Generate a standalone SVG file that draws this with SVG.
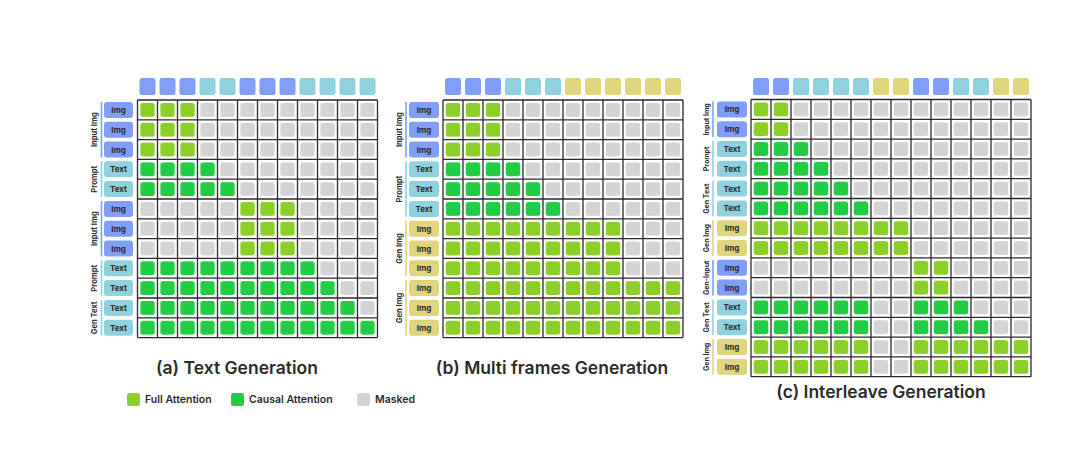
<svg xmlns="http://www.w3.org/2000/svg" width="1080" height="454" viewBox="0 0 1080 454">
<style>
text{font-family:Inter,"Liberation Sans",sans-serif;fill:#2b2b2b}
.lbl{font-size:8px;font-weight:700;text-anchor:middle;dominant-baseline:central}
.grp{font-size:7.6px;font-weight:700;text-anchor:middle;dominant-baseline:central}
#panel-c .grp{font-size:7px}
.ttl{font-size:17.5px;font-weight:600;text-anchor:middle}
.leg{font-size:10.5px;font-weight:600;dominant-baseline:central}
.B{fill:#809ef5}.T{fill:#8fd2de}.Y{fill:#e0d47c}
.lB{stroke:#809ef5}.lT{stroke:#8fd2de}.lY{stroke:#e0d47c}
.gl{stroke-width:1.6;fill:none}
.grid{fill:none;stroke:#2a2a2a;stroke-width:1.3}
</style>
<defs>
<pattern id="pm" patternUnits="userSpaceOnUse" width="20" height="19.8"><rect width="20" height="19.8" fill="#fff"/><rect x="2.75" y="2.9" width="14.5" height="14" rx="2.5" fill="#d4d4d4"/></pattern>
<pattern id="pf" patternUnits="userSpaceOnUse" width="20" height="19.8"><rect width="20" height="19.8" fill="#fff"/><rect x="2.75" y="2.9" width="14.5" height="14" rx="2.5" fill="#8ccf28"/></pattern>
<pattern id="pc" patternUnits="userSpaceOnUse" width="20" height="19.8"><rect width="20" height="19.8" fill="#fff"/><rect x="2.75" y="2.9" width="14.5" height="14" rx="2.5" fill="#22cc44"/></pattern>
</defs>
<rect width="1080" height="454" fill="#fff"/>

<g id="panel-a" transform="translate(137.5,100)">
  <g id="a-headers">
    <rect class="B" x="2" y="-22" width="16" height="17" rx="2.5"/><rect class="B" x="22" y="-22" width="16" height="17" rx="2.5"/><rect class="B" x="42" y="-22" width="16" height="17" rx="2.5"/>
    <rect class="T" x="62" y="-22" width="16" height="17" rx="2.5"/><rect class="T" x="82" y="-22" width="16" height="17" rx="2.5"/>
    <rect class="B" x="102" y="-22" width="16" height="17" rx="2.5"/><rect class="B" x="122" y="-22" width="16" height="17" rx="2.5"/><rect class="B" x="142" y="-22" width="16" height="17" rx="2.5"/>
    <rect class="T" x="162" y="-22" width="16" height="17" rx="2.5"/><rect class="T" x="182" y="-22" width="16" height="17" rx="2.5"/><rect class="T" x="202" y="-22" width="16" height="17" rx="2.5"/><rect class="T" x="222" y="-22" width="16" height="17" rx="2.5"/>
  </g>
  <g id="a-rows">
    <rect class="B" x="-33.5" y="1.9" width="29" height="16" rx="3"/><text class="lbl" x="-19" y="9.9">Img</text>
    <rect class="B" x="-33.5" y="21.7" width="29" height="16" rx="3"/><text class="lbl" x="-19" y="29.7">Img</text>
    <rect class="B" x="-33.5" y="41.5" width="29" height="16" rx="3"/><text class="lbl" x="-19" y="49.5">Img</text>
    <rect class="T" x="-33.5" y="61.3" width="29" height="16" rx="3"/><text class="lbl" x="-19" y="69.3">Text</text>
    <rect class="T" x="-33.5" y="81.1" width="29" height="16" rx="3"/><text class="lbl" x="-19" y="89.1">Text</text>
    <rect class="B" x="-33.5" y="100.9" width="29" height="16" rx="3"/><text class="lbl" x="-19" y="108.9">Img</text>
    <rect class="B" x="-33.5" y="120.7" width="29" height="16" rx="3"/><text class="lbl" x="-19" y="128.7">Img</text>
    <rect class="B" x="-33.5" y="140.5" width="29" height="16" rx="3"/><text class="lbl" x="-19" y="148.5">Img</text>
    <rect class="T" x="-33.5" y="160.3" width="29" height="16" rx="3"/><text class="lbl" x="-19" y="168.3">Text</text>
    <rect class="T" x="-33.5" y="180.1" width="29" height="16" rx="3"/><text class="lbl" x="-19" y="188.1">Text</text>
    <rect class="T" x="-33.5" y="199.9" width="29" height="16" rx="3"/><text class="lbl" x="-19" y="207.9">Text</text>
    <rect class="T" x="-33.5" y="219.7" width="29" height="16" rx="3"/><text class="lbl" x="-19" y="227.7">Text</text>
  </g>
  <g id="a-groups">
    <path class="gl lB" d="M-36 2V57.4"/><text class="grp" transform="translate(-43.5,29.7) rotate(-90)">Input Img</text>
    <path class="gl lT" d="M-36 61.4V97"/><text class="grp" transform="translate(-43.5,79.2) rotate(-90)">Prompt</text>
    <path class="gl lB" d="M-36 101V156.4"/><text class="grp" transform="translate(-43.5,128.7) rotate(-90)">Input Img</text>
    <path class="gl lT" d="M-36 160.4V196"/><text class="grp" transform="translate(-43.5,178.2) rotate(-90)">Prompt</text>
    <path class="gl lT" d="M-36 200V235.6"/><text class="grp" transform="translate(-43.5,217.8) rotate(-90)">Gen Text</text>
  </g>
  <g id="a-cells">
    <rect width="240" height="237.6" fill="url(#pm)"/>
    <rect x="0" y="0" width="60" height="59.4" fill="url(#pf)"/>
    <rect x="0" y="59.4" width="80" height="19.8" fill="url(#pc)"/>
    <rect x="0" y="79.2" width="100" height="19.8" fill="url(#pc)"/>
    <rect x="100" y="99" width="60" height="59.4" fill="url(#pf)"/>
    <rect x="0" y="158.4" width="180" height="19.8" fill="url(#pc)"/>
    <rect x="0" y="178.2" width="200" height="19.8" fill="url(#pc)"/>
    <rect x="0" y="198" width="220" height="19.8" fill="url(#pc)"/>
    <rect x="0" y="217.8" width="240" height="19.8" fill="url(#pc)"/>
    <path class="grid" d="M0 0V237.6M20 0V237.6M40 0V237.6M60 0V237.6M80 0V237.6M100 0V237.6M120 0V237.6M140 0V237.6M160 0V237.6M180 0V237.6M200 0V237.6M220 0V237.6M240 0V237.6M0 0H240M0 19.8H240M0 39.6H240M0 59.4H240M0 79.2H240M0 99H240M0 118.8H240M0 138.6H240M0 158.4H240M0 178.2H240M0 198H240M0 217.8H240M0 237.6H240"/>
  </g>
</g>

<g id="panel-b" transform="translate(443,100)">
  <g id="b-headers">
    <rect class="B" x="2" y="-22" width="16" height="17" rx="2.5"/><rect class="B" x="22" y="-22" width="16" height="17" rx="2.5"/><rect class="B" x="42" y="-22" width="16" height="17" rx="2.5"/>
    <rect class="T" x="62" y="-22" width="16" height="17" rx="2.5"/><rect class="T" x="82" y="-22" width="16" height="17" rx="2.5"/><rect class="T" x="102" y="-22" width="16" height="17" rx="2.5"/>
    <rect class="Y" x="122" y="-22" width="16" height="17" rx="2.5"/><rect class="Y" x="142" y="-22" width="16" height="17" rx="2.5"/><rect class="Y" x="162" y="-22" width="16" height="17" rx="2.5"/><rect class="Y" x="182" y="-22" width="16" height="17" rx="2.5"/><rect class="Y" x="202" y="-22" width="16" height="17" rx="2.5"/><rect class="Y" x="222" y="-22" width="16" height="17" rx="2.5"/>
  </g>
  <g id="b-rows">
    <rect class="B" x="-34" y="1.9" width="30" height="16" rx="3"/><text class="lbl" x="-19" y="9.9">Img</text>
    <rect class="B" x="-34" y="21.7" width="30" height="16" rx="3"/><text class="lbl" x="-19" y="29.7">Img</text>
    <rect class="B" x="-34" y="41.5" width="30" height="16" rx="3"/><text class="lbl" x="-19" y="49.5">Img</text>
    <rect class="T" x="-34" y="61.3" width="30" height="16" rx="3"/><text class="lbl" x="-19" y="69.3">Text</text>
    <rect class="T" x="-34" y="81.1" width="30" height="16" rx="3"/><text class="lbl" x="-19" y="89.1">Text</text>
    <rect class="T" x="-34" y="100.9" width="30" height="16" rx="3"/><text class="lbl" x="-19" y="108.9">Text</text>
    <rect class="Y" x="-34" y="120.7" width="30" height="16" rx="3"/><text class="lbl" x="-19" y="128.7">Img</text>
    <rect class="Y" x="-34" y="140.5" width="30" height="16" rx="3"/><text class="lbl" x="-19" y="148.5">Img</text>
    <rect class="Y" x="-34" y="160.3" width="30" height="16" rx="3"/><text class="lbl" x="-19" y="168.3">Img</text>
    <rect class="Y" x="-34" y="180.1" width="30" height="16" rx="3"/><text class="lbl" x="-19" y="188.1">Img</text>
    <rect class="Y" x="-34" y="199.9" width="30" height="16" rx="3"/><text class="lbl" x="-19" y="207.9">Img</text>
    <rect class="Y" x="-34" y="219.7" width="30" height="16" rx="3"/><text class="lbl" x="-19" y="227.7">Img</text>
  </g>
  <g id="b-groups">
    <path class="gl lB" d="M-37 2V57.4"/><text class="grp" transform="translate(-44,29.7) rotate(-90)">Input Img</text>
    <path class="gl lT" d="M-37 61.4V116.8"/><text class="grp" transform="translate(-44,89.1) rotate(-90)">Prompt</text>
    <path class="gl lY" d="M-37 120.8V176.2"/><text class="grp" transform="translate(-44,148.5) rotate(-90)">Gen Img</text>
    <path class="gl lY" d="M-37 180.2V235.6"/><text class="grp" transform="translate(-44,207.9) rotate(-90)">Gen Img</text>
  </g>
  <g id="b-cells">
    <rect width="240" height="237.6" fill="url(#pm)"/>
    <rect x="0" y="0" width="60" height="59.4" fill="url(#pf)"/>
    <rect x="0" y="59.4" width="80" height="19.8" fill="url(#pc)"/>
    <rect x="0" y="79.2" width="100" height="19.8" fill="url(#pc)"/>
    <rect x="0" y="99" width="120" height="19.8" fill="url(#pc)"/>
    <rect x="0" y="118.8" width="180" height="59.4" fill="url(#pf)"/>
    <rect x="0" y="178.2" width="240" height="59.4" fill="url(#pf)"/>
    <path class="grid" d="M0 0V237.6M20 0V237.6M40 0V237.6M60 0V237.6M80 0V237.6M100 0V237.6M120 0V237.6M140 0V237.6M160 0V237.6M180 0V237.6M200 0V237.6M220 0V237.6M240 0V237.6M0 0H240M0 19.8H240M0 39.6H240M0 59.4H240M0 79.2H240M0 99H240M0 118.8H240M0 138.6H240M0 158.4H240M0 178.2H240M0 198H240M0 217.8H240M0 237.6H240"/>
  </g>
</g>

<g id="panel-c" transform="translate(751,99.5)">
  <g id="c-headers">
    <rect class="B" x="2" y="-21.5" width="16" height="17" rx="2.5"/><rect class="B" x="22" y="-21.5" width="16" height="17" rx="2.5"/>
    <rect class="T" x="42" y="-21.5" width="16" height="17" rx="2.5"/><rect class="T" x="62" y="-21.5" width="16" height="17" rx="2.5"/><rect class="T" x="82" y="-21.5" width="16" height="17" rx="2.5"/><rect class="T" x="102" y="-21.5" width="16" height="17" rx="2.5"/>
    <rect class="Y" x="122" y="-21.5" width="16" height="17" rx="2.5"/><rect class="Y" x="142" y="-21.5" width="16" height="17" rx="2.5"/>
    <rect class="B" x="162" y="-21.5" width="16" height="17" rx="2.5"/><rect class="B" x="182" y="-21.5" width="16" height="17" rx="2.5"/>
    <rect class="T" x="202" y="-21.5" width="16" height="17" rx="2.5"/><rect class="T" x="222" y="-21.5" width="16" height="17" rx="2.5"/>
    <rect class="Y" x="242" y="-21.5" width="16" height="17" rx="2.5"/><rect class="Y" x="262" y="-21.5" width="16" height="17" rx="2.5"/>
  </g>
  <g id="c-rows">
    <rect class="B" x="-34" y="1.9" width="30" height="16" rx="3"/><text class="lbl" x="-19" y="9.9">Img</text>
    <rect class="B" x="-34" y="21.7" width="30" height="16" rx="3"/><text class="lbl" x="-19" y="29.7">Img</text>
    <rect class="T" x="-34" y="41.5" width="30" height="16" rx="3"/><text class="lbl" x="-19" y="49.5">Text</text>
    <rect class="T" x="-34" y="61.3" width="30" height="16" rx="3"/><text class="lbl" x="-19" y="69.3">Text</text>
    <rect class="T" x="-34" y="81.1" width="30" height="16" rx="3"/><text class="lbl" x="-19" y="89.1">Text</text>
    <rect class="T" x="-34" y="100.9" width="30" height="16" rx="3"/><text class="lbl" x="-19" y="108.9">Text</text>
    <rect class="Y" x="-34" y="120.7" width="30" height="16" rx="3"/><text class="lbl" x="-19" y="128.7">Img</text>
    <rect class="Y" x="-34" y="140.5" width="30" height="16" rx="3"/><text class="lbl" x="-19" y="148.5">Img</text>
    <rect class="B" x="-34" y="160.3" width="30" height="16" rx="3"/><text class="lbl" x="-19" y="168.3">Img</text>
    <rect class="B" x="-34" y="180.1" width="30" height="16" rx="3"/><text class="lbl" x="-19" y="188.1">Img</text>
    <rect class="T" x="-34" y="199.9" width="30" height="16" rx="3"/><text class="lbl" x="-19" y="207.9">Text</text>
    <rect class="T" x="-34" y="219.7" width="30" height="16" rx="3"/><text class="lbl" x="-19" y="227.7">Text</text>
    <rect class="Y" x="-34" y="239.5" width="30" height="16" rx="3"/><text class="lbl" x="-19" y="247.5">Img</text>
    <rect class="Y" x="-34" y="259.3" width="30" height="16" rx="3"/><text class="lbl" x="-19" y="267.3">Img</text>
  </g>
  <g id="c-groups">
    <path class="gl lB" d="M-38 2V37.6"/><text class="grp" transform="translate(-45,19.8) rotate(-90)">Input Img</text>
    <path class="gl lT" d="M-38 41.6V77.2"/><text class="grp" transform="translate(-45,59.4) rotate(-90)">Prompt</text>
    <path class="gl lT" d="M-38 81.2V116.8"/><text class="grp" transform="translate(-45,99) rotate(-90)">Gen Text</text>
    <path class="gl lY" d="M-38 120.8V156.4"/><text class="grp" transform="translate(-45,138.6) rotate(-90)">Gen Img</text>
    <path class="gl lB" d="M-38 160.4V196"/><text class="grp" transform="translate(-45,178.2) rotate(-90)">Gen-Input</text>
    <path class="gl lT" d="M-38 200V235.6"/><text class="grp" transform="translate(-45,217.8) rotate(-90)">Gen Text</text>
    <path class="gl lY" d="M-38 239.6V275.2"/><text class="grp" transform="translate(-45,257.4) rotate(-90)">Gen Img</text>
  </g>
  <g id="c-cells">
    <rect width="280" height="277.2" fill="url(#pm)"/>
    <rect x="0" y="0" width="40" height="39.6" fill="url(#pf)"/>
    <rect x="0" y="39.6" width="60" height="19.8" fill="url(#pc)"/>
    <rect x="0" y="59.4" width="80" height="19.8" fill="url(#pc)"/>
    <rect x="0" y="79.2" width="100" height="19.8" fill="url(#pc)"/>
    <rect x="0" y="99" width="120" height="19.8" fill="url(#pc)"/>
    <rect x="0" y="118.8" width="160" height="39.6" fill="url(#pf)"/>
    <rect x="160" y="158.4" width="40" height="39.6" fill="url(#pf)"/>
    <rect x="0" y="198" width="120" height="39.6" fill="url(#pc)"/>
    <rect x="160" y="198" width="60" height="19.8" fill="url(#pc)"/>
    <rect x="160" y="217.8" width="80" height="19.8" fill="url(#pc)"/>
    <rect x="0" y="237.6" width="120" height="39.6" fill="url(#pf)"/>
    <rect x="160" y="237.6" width="120" height="39.6" fill="url(#pf)"/>
    <path class="grid" d="M0 0V277.2M20 0V277.2M40 0V277.2M60 0V277.2M80 0V277.2M100 0V277.2M120 0V277.2M140 0V277.2M160 0V277.2M180 0V277.2M200 0V277.2M220 0V277.2M240 0V277.2M260 0V277.2M280 0V277.2M0 0H280M0 19.8H280M0 39.6H280M0 59.4H280M0 79.2H280M0 99H280M0 118.8H280M0 138.6H280M0 158.4H280M0 178.2H280M0 198H280M0 217.8H280M0 237.6H280M0 257.4H280M0 277.2H280"/>
  </g>
</g>

<g id="titles">
  <text class="ttl" x="237" y="374">(a) Text Generation</text>
  <text class="ttl" x="552" y="374">(b) Multi frames Generation</text>
  <text class="ttl" x="881" y="398">(c) Interleave Generation</text>
</g>

<g id="legend">
  <rect x="127" y="393" width="13" height="13" rx="2.5" fill="#8ccf28"/><text class="leg" x="145" y="399.5">Full Attention</text>
  <rect x="231" y="393" width="13" height="13" rx="2.5" fill="#22cc44"/><text class="leg" x="249" y="399.5">Causal Attention</text>
  <rect x="357" y="393" width="13" height="13" rx="2.5" fill="#d4d4d4"/><text class="leg" x="375" y="399.5">Masked</text>
</g>
</svg>
